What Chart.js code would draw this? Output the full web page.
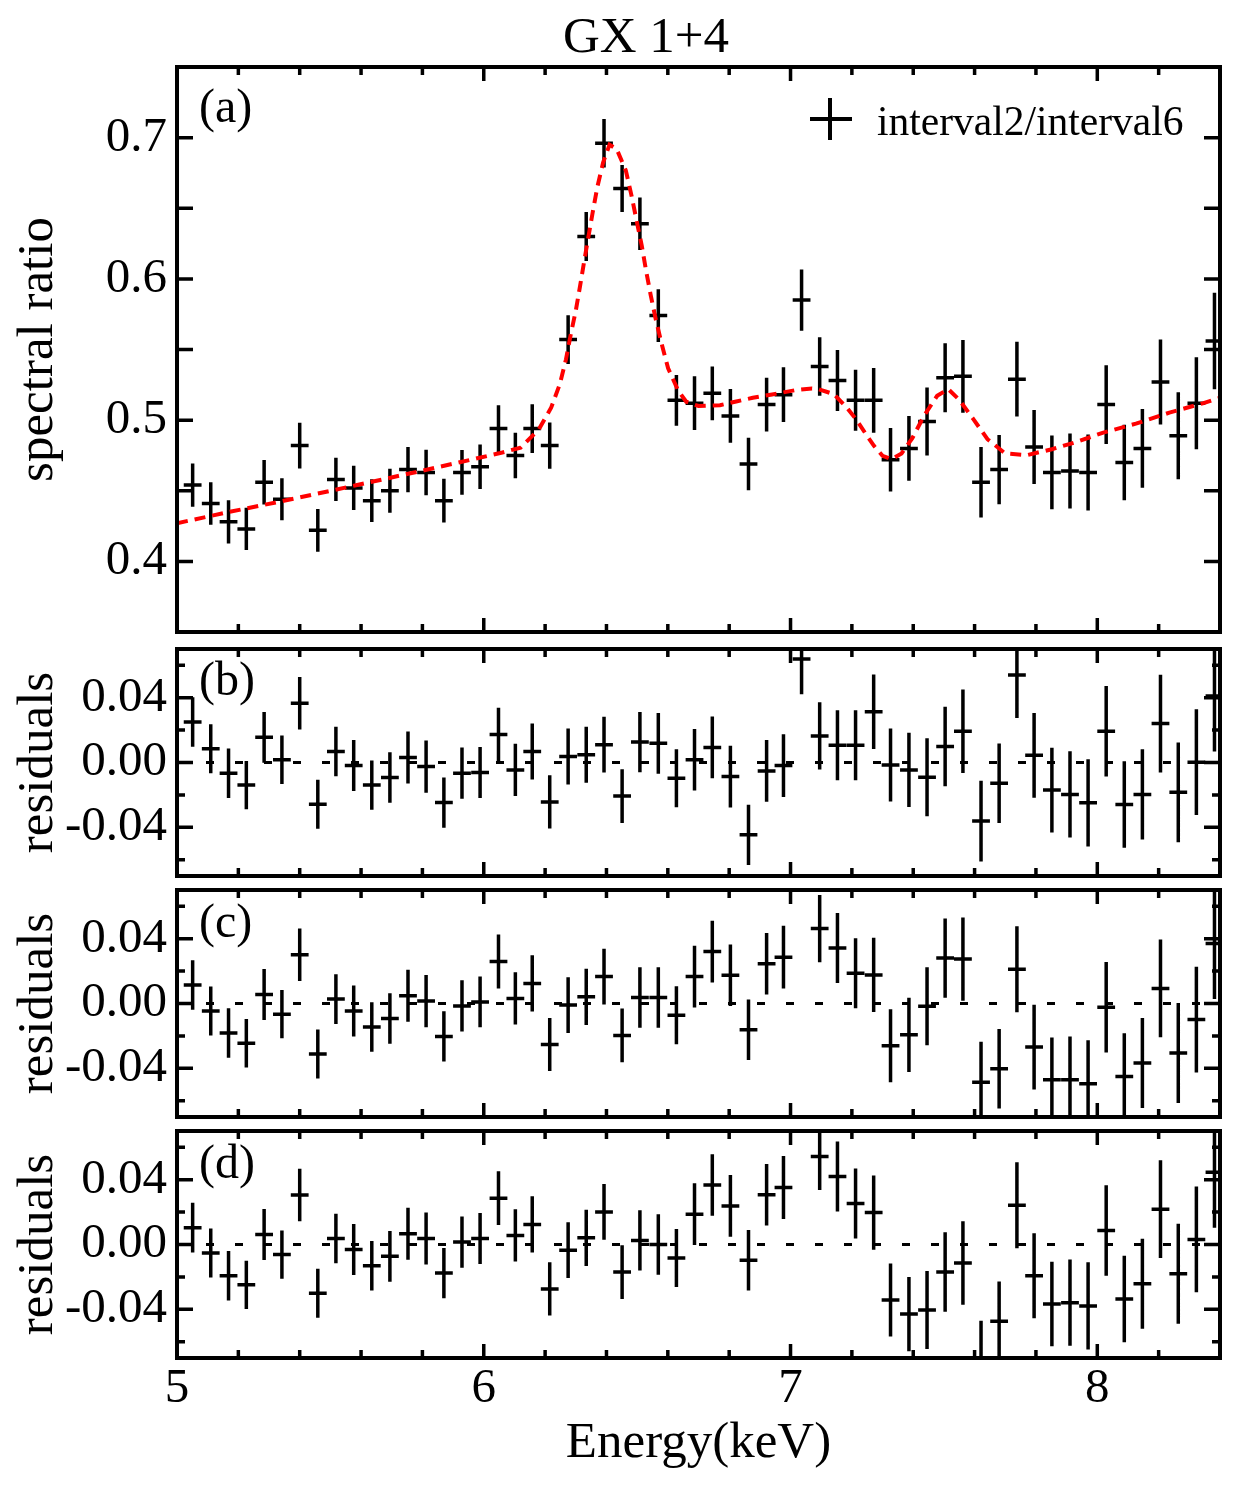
<!DOCTYPE html>
<html>
<head>
<meta charset="utf-8">
<script src="https://cdn.jsdelivr.net/npm/chart.js@4.4.1/dist/chart.umd.min.js"></script>
<style>
  body { margin: 0; background: #fff; }
  #wrap { position: relative; width: 1235px; height: 1486px; }
  canvas { position: absolute; left: 0; }
</style>
</head>
<body>
<div id="wrap">
  <canvas id="panelA" width="1235" height="640" style="top:0px"></canvas>
  <canvas id="panelB" width="1235" height="243" style="top:640px"></canvas>
  <canvas id="panelC" width="1235" height="241" style="top:883px"></canvas>
  <canvas id="panelD" width="1235" height="362" style="top:1124px"></canvas>
</div>
<script>
// bin centres (keV)
const energy = [5.051, 5.110, 5.168, 5.226, 5.284, 5.342, 5.400, 5.459, 5.518, 5.576,
  5.635, 5.694, 5.753, 5.812, 5.870, 5.929, 5.988, 6.048, 6.103, 6.158,
  6.215, 6.275, 6.334, 6.392, 6.451, 6.509, 6.569, 6.628, 6.687, 6.745,
  6.804, 6.863, 6.922, 6.977, 7.036, 7.095, 7.153, 7.212, 7.271, 7.326,
  7.386, 7.445, 7.504, 7.562, 7.621, 7.680, 7.738, 7.794, 7.852, 7.911,
  7.970, 8.029, 8.088, 8.147, 8.206, 8.264, 8.323, 8.382];
const binHalfWidth = 0.029;

// (a) spectral ratio interval2/interval6
const ratio = [0.454, 0.441, 0.428, 0.423, 0.456, 0.444, 0.482, 0.422, 0.458, 0.452,
  0.443, 0.450, 0.465, 0.463, 0.443, 0.463, 0.467, 0.494, 0.475, 0.494,
  0.482, 0.557, 0.630, 0.696, 0.664, 0.639, 0.574, 0.514, 0.512, 0.519,
  0.503, 0.469, 0.511, 0.518, 0.585, 0.538, 0.528, 0.514, 0.514, 0.472,
  0.480, 0.499, 0.530, 0.531, 0.456, 0.465, 0.529, 0.481, 0.463, 0.464,
  0.463, 0.511, 0.470, 0.480, 0.527, 0.489, 0.512, 0.556];
const ratioErr = [0.0153, 0.0151, 0.0153, 0.0149, 0.0157, 0.0149, 0.0162, 0.0151, 0.0153, 0.0157,
  0.0152, 0.0156, 0.0160, 0.0161, 0.0155, 0.0158, 0.0157, 0.0166, 0.0161, 0.0173,
  0.0164, 0.0172, 0.0173, 0.0172, 0.0166, 0.0186, 0.0187, 0.0179, 0.0190, 0.0190,
  0.0190, 0.0186, 0.0190, 0.0194, 0.0217, 0.0207, 0.0216, 0.0216, 0.0229, 0.0225,
  0.0229, 0.0241, 0.0245, 0.0257, 0.0249, 0.0245, 0.0265, 0.0262, 0.0261, 0.0266,
  0.0269, 0.0279, 0.0267, 0.0278, 0.0301, 0.0308, 0.0326, 0.0342];

// model curve (red dashed)
const modelEnergy = [5.00, 5.17, 5.34, 5.58, 5.81, 6.05, 6.12, 6.18, 6.22, 6.248,
  6.268, 6.283, 6.30, 6.314, 6.327, 6.341, 6.355, 6.37, 6.389, 6.41,
  6.433, 6.463, 6.482, 6.498, 6.515, 6.529, 6.544, 6.561, 6.58, 6.601,
  6.634, 6.66, 6.70, 6.77, 6.823, 6.877, 6.94, 7.018, 7.07, 7.09,
  7.141, 7.183, 7.215, 7.246, 7.272, 7.30, 7.329, 7.362, 7.397, 7.435,
  7.478, 7.514, 7.55, 7.596, 7.642, 7.70, 7.77, 7.852, 7.93, 8.017,
  8.126, 8.235, 8.344, 8.40];
const modelRatio = [0.427, 0.435, 0.4425, 0.4537, 0.4647, 0.4765, 0.4805, 0.4936, 0.509, 0.5255,
  0.543, 0.560, 0.5775, 0.595, 0.612, 0.6296, 0.647, 0.6648, 0.6823, 0.695,
  0.692, 0.6768, 0.6586, 0.6414, 0.6236, 0.6059, 0.5887, 0.5711, 0.5539, 0.5367,
  0.5208, 0.513, 0.510, 0.5106, 0.5132, 0.5158, 0.5182, 0.5213, 0.5224, 0.522,
  0.5184, 0.509, 0.5002, 0.490, 0.4818, 0.4747, 0.4723, 0.4764, 0.4872, 0.503,
  0.5172, 0.522, 0.5144, 0.5007, 0.4865, 0.4764, 0.4752, 0.4794, 0.4844, 0.491,
  0.4975, 0.5053, 0.5119, 0.5158];

// residual panels (b), (c), (d)
const residB = [0.0250, 0.0085, -0.0066, -0.0139, 0.0155, 0.0017, 0.0365, -0.0257, 0.0068, -0.0019,
  -0.0139, -0.0093, 0.0031, -0.0025, -0.0247, -0.0066, -0.0062, 0.0172, -0.0046, 0.0068,
  -0.0243, 0.0037, 0.0048, 0.0110, -0.0207, 0.0126, 0.0118, -0.0097, 0.0017, 0.0093,
  -0.0087, -0.0446, -0.0052, -0.0019, 0.0638, 0.0164, 0.0106, 0.0106, 0.0313, -0.0015,
  -0.0046, -0.0091, 0.0099, 0.0193, -0.0361, -0.0128, 0.0539, 0.0044, -0.0170, -0.0197,
  -0.0249, 0.0193, -0.0259, -0.0197, 0.0240, -0.0184, 0.0002, 0.0410];
const residC = [0.0114, -0.0046, -0.0182, -0.0245, 0.0056, -0.0066, 0.0300, -0.0311, 0.0027, -0.0046,
  -0.0145, -0.0093, 0.0048, 0.0015, -0.0203, -0.0015, 0.0010, 0.0259, 0.0031, 0.0124,
  -0.0253, -0.0010, 0.0041, 0.0166, -0.0197, 0.0037, 0.0037, -0.0073, 0.0166, 0.0320,
  0.0174, -0.0162, 0.0245, 0.0286, 0.0950, 0.0462, 0.0342, 0.0187, 0.0176, -0.0261,
  -0.0193, -0.0017, 0.0280, 0.0274, -0.0485, -0.0402, 0.0211, -0.0269, -0.0470, -0.0470,
  -0.0495, -0.0023, -0.0450, -0.0367, 0.0093, -0.0305, -0.0099, 0.0370];
const residD = [0.0104, -0.0052, -0.0193, -0.0249, 0.0062, -0.0062, 0.0305, -0.0300, 0.0037, -0.0031,
  -0.0131, -0.0073, 0.0066, 0.0037, -0.0176, 0.0015, 0.0037, 0.0286, 0.0056, 0.0124,
  -0.0274, -0.0035, 0.0041, 0.0201, -0.0170, 0.0025, 0.0000, -0.0083, 0.0187, 0.0367,
  0.0238, -0.0097, 0.0307, 0.0352, 0.1000, 0.0543, 0.0419, 0.0253, 0.0197, -0.0342,
  -0.0429, -0.0404, -0.0170, -0.0114, -0.0720, -0.0473, 0.0242, -0.0193, -0.0367, -0.0359,
  -0.0379, 0.0087, -0.0336, -0.0242, 0.0218, -0.0180, 0.0031, 0.0445];

// axes
const X_MIN = 5, X_MAX = 8.4;
const xLabelTicks = [5, 6, 7, 8];
const xMajorTicks = [6, 7, 8];
const xMinorTicks = [5.2, 5.4, 5.6, 5.8, 6.2, 6.4, 6.6, 6.8, 7.2, 7.4, 7.6, 7.8, 8.2];
const ratioLabelTicks = [0.4, 0.5, 0.6, 0.7];
const ratioMarkTicks = [0.4, 0.45, 0.5, 0.55, 0.6, 0.65, 0.7];
const residLabelTicks = [-0.04, 0, 0.04];
const residMinorTicks = [-0.06, -0.02, 0.02, 0.06];

const SERIF = "'Liberation Serif', 'Times New Roman', serif";
Chart.defaults.font.family = SERIF;
Chart.defaults.color = '#000';

// error bars as broken line segments
function errorBarPoints(vals) {
  const pts = [];
  energy.forEach((e, i) => {
    const v = vals[i], s = ratioErr[i];
    pts.push({x: e, y: v - s}, {x: e, y: v + s}, {x: e, y: null});
    pts.push({x: e - binHalfWidth, y: v}, {x: e + binHalfWidth, y: v}, {x: e, y: null});
  });
  return pts;
}

// frame, inward ticks, panel letters, legend
const panelDecor = {
  id: 'panelDecor',
  afterDatasetsDraw(chart, args, opts) {
    const {ctx, chartArea: a, scales: {x, y}} = chart;
    ctx.save();
    ctx.strokeStyle = '#000';
    ctx.lineWidth = 3.5;
    ctx.beginPath();
    const vTick = (v, len) => {
      const p = x.getPixelForValue(v);
      ctx.moveTo(p, a.bottom); ctx.lineTo(p, a.bottom - len);
      ctx.moveTo(p, a.top); ctx.lineTo(p, a.top + len);
    };
    const hTick = (v, len) => {
      const p = y.getPixelForValue(v);
      ctx.moveTo(a.left, p); ctx.lineTo(a.left + len, p);
      ctx.moveTo(a.right, p); ctx.lineTo(a.right - len, p);
    };
    xMajorTicks.forEach(v => vTick(v, 14));
    xMinorTicks.forEach(v => vTick(v, 8));
    opts.yMajor.forEach(v => hTick(v, 16));
    opts.yMinor.forEach(v => hTick(v, 8));
    ctx.stroke();

    ctx.lineWidth = 4;
    ctx.strokeRect(a.left, a.top, a.right - a.left, a.bottom - a.top);

    ctx.fillStyle = '#000';
    ctx.textBaseline = 'alphabetic';
    ctx.textAlign = 'left';
    ctx.font = '48px ' + SERIF;
    ctx.fillText(opts.label, a.left + 22, a.top + opts.labelDy);

    if (opts.title) {
      ctx.font = '51px ' + SERIF;
      ctx.textAlign = 'center';
      ctx.fillText(opts.title, 646, 52);
    }
    if (opts.legend) {
      ctx.lineWidth = 4;
      ctx.beginPath();
      ctx.moveTo(810, 119); ctx.lineTo(852, 119);
      ctx.moveTo(830, 98); ctx.lineTo(830, 140);
      ctx.stroke();
      ctx.font = '41.5px ' + SERIF;
      ctx.textAlign = 'left';
      ctx.fillText(opts.legend, 877, 135);
    }
    ctx.restore();
  }
};

function yAxis(min, max, labels, fmt, titleText) {
  return {
    type: 'linear', min: min, max: max,
    grid: {display: false, drawTicks: false},
    border: {display: false},
    ticks: {font: {size: 49, lineHeight: 1}, padding: 10, callback: fmt},
    afterBuildTicks: s => { s.ticks = labels.map(v => ({value: v})); },
    afterFit: s => { s.width = 177; s.paddingTop = 0; s.paddingBottom = 0; },
    title: {display: true, text: titleText, font: {size: 51, lineHeight: 1}, padding: {top: 13, bottom: 0}}
  };
}

function xAxis(showLabels) {
  if (!showLabels) return {type: 'linear', min: X_MIN, max: X_MAX, display: false};
  return {
    type: 'linear', min: X_MIN, max: X_MAX,
    grid: {display: false, drawTicks: false},
    border: {display: false},
    ticks: {font: {size: 49, lineHeight: 1}, padding: 7, callback: v => String(v)},
    afterBuildTicks: s => { s.ticks = xLabelTicks.map(v => ({value: v})); },
    afterFit: s => { s.height = 128; s.paddingLeft = 0; s.paddingRight = 0; },
    title: {display: true, text: 'Energy(keV)', font: {size: 51, lineHeight: 1}, padding: {top: 0, bottom: 17}}
  };
}

function makePanel(id, datasets, padding, x, y, decor) {
  return new Chart(document.getElementById(id), {
    type: 'line',
    data: {datasets: datasets},
    options: {
      responsive: false,
      animation: false,
      events: [],
      layout: {padding: padding},
      elements: {point: {radius: 0, hoverRadius: 0}, line: {tension: 0, borderCapStyle: 'butt'}},
      plugins: {legend: {display: false}, tooltip: {enabled: false}, panelDecor: decor},
      scales: {x: x, y: y}
    },
    plugins: [panelDecor]
  });
}

function barSet(vals) {
  return {data: errorBarPoints(vals), borderColor: '#000', borderWidth: 3.5, spanGaps: false, fill: false};
}
function zeroLine() {
  return {data: [{x: X_MIN, y: 0}, {x: X_MAX, y: 0}], borderColor: '#000', borderWidth: 3, borderDash: [8, 21], fill: false};
}

// (a)
makePanel('panelA', [
  {data: modelEnergy.map((e, i) => ({x: e, y: modelRatio[i]})), borderColor: '#ff0000', borderWidth: 4, borderDash: [11, 7], fill: false},
  barSet(ratio)
], {top: 67, bottom: 8, left: 0, right: 15}, xAxis(false),
  yAxis(0.35, 0.75, ratioLabelTicks, v => v.toFixed(1), 'spectral ratio'),
  {yMajor: ratioMarkTicks, yMinor: [], label: '(a)', labelDy: 55, title: 'GX 1+4', legend: 'interval2/interval6'});

const residFmt = v => v.toFixed(2);
// (b)
makePanel('panelB', [barSet(residB), zeroLine()], {top: 9, bottom: 7, left: 0, right: 15}, xAxis(false),
  yAxis(-0.07, 0.07, residLabelTicks, residFmt, 'residuals'),
  {yMajor: residLabelTicks, yMinor: residMinorTicks, label: '(b)', labelDy: 46});
// (c)
makePanel('panelC', [barSet(residC), zeroLine()], {top: 7, bottom: 7, left: 0, right: 15}, xAxis(false),
  yAxis(-0.07, 0.07, residLabelTicks, residFmt, 'residuals'),
  {yMajor: residLabelTicks, yMinor: residMinorTicks, label: '(c)', labelDy: 47});
// (d)
makePanel('panelD', [barSet(residD), zeroLine()], {top: 7, bottom: 0, left: 0, right: 15}, xAxis(true),
  yAxis(-0.07, 0.07, residLabelTicks, residFmt, 'residuals'),
  {yMajor: residLabelTicks, yMinor: residMinorTicks, label: '(d)', labelDy: 47});
</script>
</body>
</html>
